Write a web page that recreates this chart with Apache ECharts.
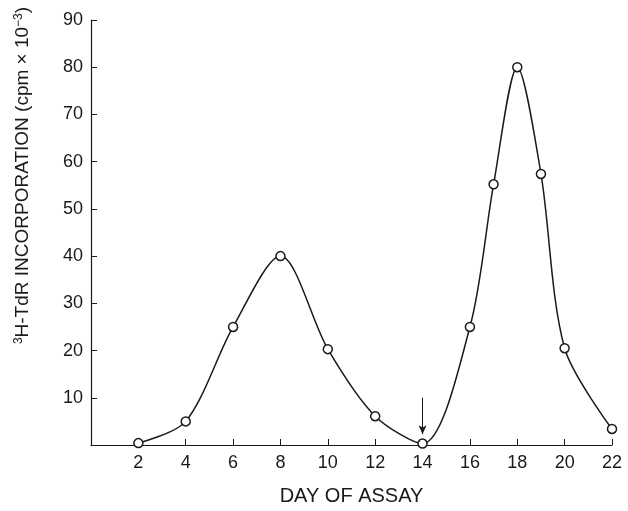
<!DOCTYPE html>
<html>
<head>
<meta charset="utf-8">
<script src="https://cdn.jsdelivr.net/npm/echarts@6/dist/echarts.min.js"></script>
<style>
  html, body { margin: 0; padding: 0; background: #fff; }
  #chart { width: 628px; height: 511px; }
</style>
</head>
<body>
<div id="chart"></div>
<script>
// day of assay vs 3H-TdR incorporation (cpm x 10^-3)
const days = [2, 4, 6, 8, 10, 12, 14, 16, 17, 18, 19, 20, 22]
const incorporation = [0.4, 5, 25, 40, 20.3, 6.1, 0.3, 25, 55.2, 80, 57.4, 20.5, 3.4]
const arrowDay = 14
const arrowFrom = 10
const arrowTo = 2.3

const ink = '#1a1a1a'
const font = '"Liberation Sans", Arial, sans-serif'

const chart = echarts.init(document.getElementById('chart'))
chart.setOption({
  animation: false,
  grid: { left: 91, right: 16, top: 20, bottom: 63 },
  xAxis: {
    type: 'value',
    min: 0,
    max: 22,
    interval: 2,
    name: 'DAY OF ASSAY',
    nameLocation: 'middle',
    nameGap: 41,
    nameTextStyle: { color: ink, fontSize: 20, fontFamily: font },
    axisLine: { lineStyle: { color: ink, width: 1.2 } },
    axisTick: { inside: true, length: 6, lineStyle: { color: ink } },
    axisLabel: {
      color: ink, fontSize: 18, fontFamily: font, margin: 9,
      formatter: (v) => (v === 0 ? '' : String(v))
    },
    splitLine: { show: false }
  },
  yAxis: {
    type: 'value',
    min: 0,
    max: 90,
    interval: 10,
    name: '{sup|3}H-TdR INCORPORATION (cpm × 10{sup|−3})',
    nameLocation: 'middle',
    nameGap: 58,
    nameTextStyle: {
      color: ink, fontSize: 19, fontFamily: font,
      padding: [0, 0, 0, 114],
      rich: {
        sup: { fontSize: 12, fontFamily: font, color: ink, verticalAlign: 'top', padding: [0, 0, 8, 0] }
      }
    },
    axisLine: { lineStyle: { color: ink, width: 1.2 } },
    axisTick: { inside: true, length: 6, lineStyle: { color: ink } },
    axisLabel: {
      color: ink, fontSize: 18, fontFamily: font, margin: 8,
      formatter: (v) => (v === 0 ? '' : String(v))
    },
    splitLine: { show: false }
  },
  series: [
    {
      type: 'line',
      data: days.map((d, i) => [d, incorporation[i]]),
      smooth: 0.3,
      symbol: 'circle',
      symbolSize: 9,
      lineStyle: { color: ink, width: 1.5 },
      itemStyle: { color: '#fff', borderColor: ink, borderWidth: 1.5 },
      markLine: {
        silent: true,
        symbol: ['none', 'arrow'],
        symbolSize: [6, 9],
        label: { show: false },
        lineStyle: { color: ink, width: 1, type: 'solid' },
        data: [[{ coord: [arrowDay, arrowFrom] }, { coord: [arrowDay, arrowTo] }]]
      }
    }
  ]
})
</script>
</body>
</html>
